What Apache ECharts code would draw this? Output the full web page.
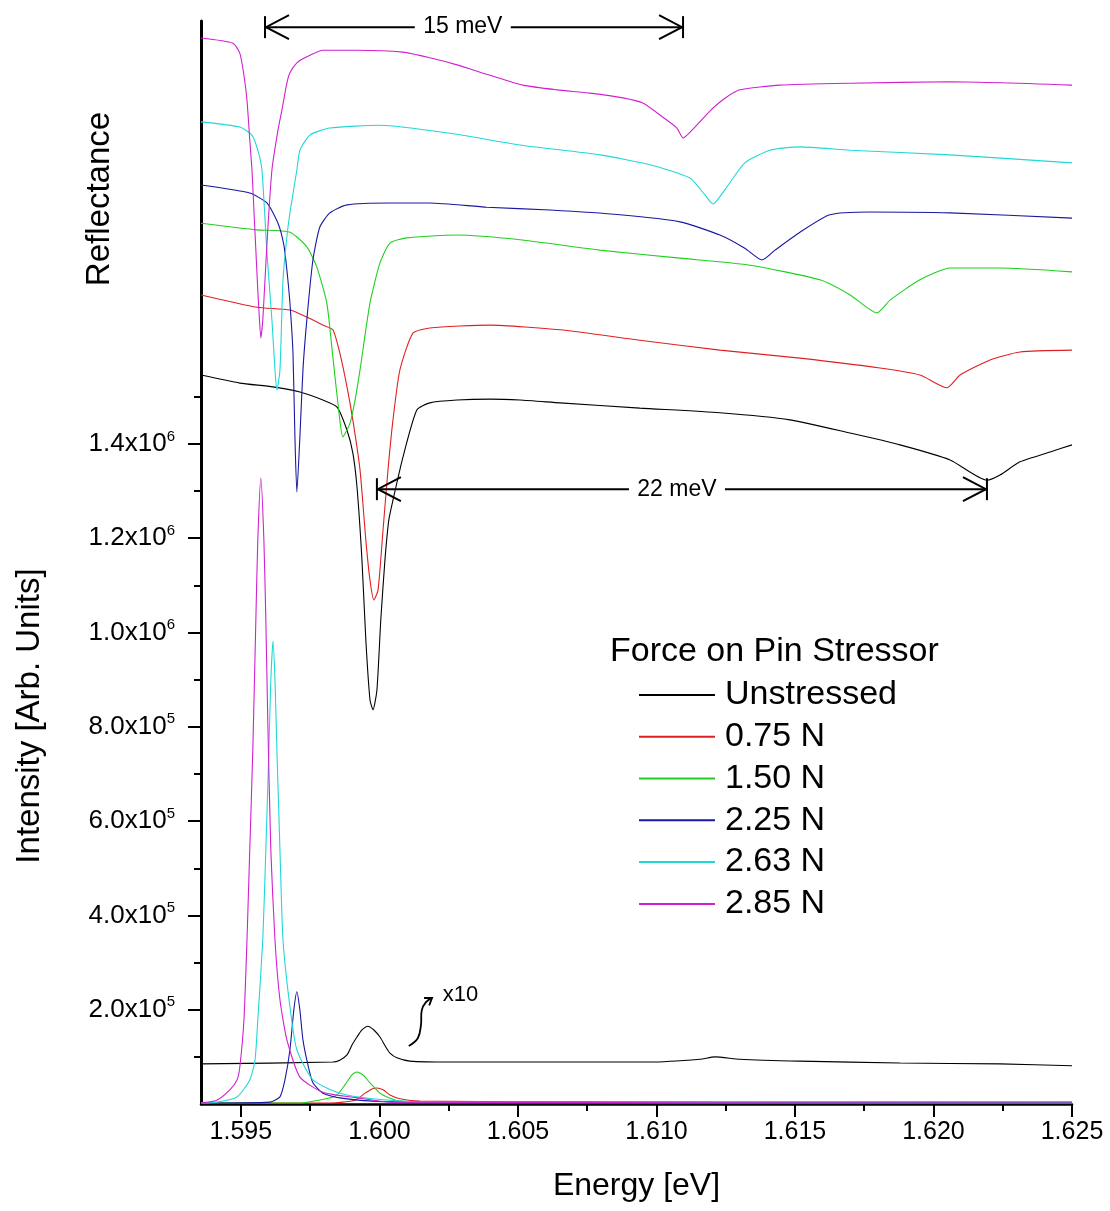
<!DOCTYPE html>
<html><head><meta charset="utf-8">
<script src="https://cdn.jsdelivr.net/npm/echarts@6/dist/echarts.min.js"></script>
<style>html,body{margin:0;padding:0;background:#fff}#c{width:1110px;height:1211px}</style>
</head><body><div id="c"></div>
<script>
// ---- Data (energy in eV, intensity in units of 1e5) ----
const forceNames = ['Unstressed', '0.75 N', '1.50 N', '2.25 N', '2.63 N', '2.85 N'];
const lineColors = ['#000000', '#e02020', '#20d020', '#1818a0', '#20d8d8', '#d020d0'];

const xMajorTicks = [1.595, 1.600, 1.605, 1.610, 1.615, 1.620, 1.625];
const xMinorTicks = [1.5975, 1.6025, 1.6075, 1.6125, 1.6175, 1.6225];
const yLabelTicks = [2, 4, 6, 8, 10, 12, 14];
const yMinorTicks = [1, 3, 5, 7, 9, 11, 13, 15];

// Reflectance traces
const reflUnstressed = [[1.59356,15.46],[1.59496,15.29],[1.59616,15.21],[1.59713,15.10],[1.59796,14.93],[1.59847,14.78],[1.59883,14.29],[1.59904,13.81],[1.59919,13.09],[1.59937,11.54],[1.59951,9.84],[1.59966,8.57],[1.59977,8.36],[1.59991,8.78],[1.60005,10.27],[1.60020,11.54],[1.60034,12.39],[1.60049,12.81],[1.60085,13.72],[1.60135,14.72],[1.60182,14.87],[1.60280,14.93],[1.60399,14.95],[1.60507,14.93],[1.60652,14.87],[1.60940,14.76],[1.61229,14.66],[1.61482,14.51],[1.61699,14.23],[1.61879,13.98],[1.62060,13.66],[1.62193,13.23],[1.62240,13.34],[1.62312,13.62],[1.62421,13.83],[1.62500,13.98]];
const refl075 = [[1.59356,17.16],[1.59558,16.90],[1.59677,16.84],[1.59738,16.69],[1.59796,16.52],[1.59832,16.42],[1.59857,15.93],[1.59883,15.21],[1.59904,14.51],[1.59930,13.45],[1.59951,11.96],[1.59966,11.11],[1.59980,10.69],[1.59995,10.90],[1.60013,12.17],[1.60031,13.45],[1.60049,14.51],[1.60074,15.57],[1.60121,16.35],[1.60182,16.46],[1.60399,16.52],[1.60652,16.42],[1.60940,16.20],[1.61229,15.99],[1.61518,15.82],[1.61807,15.61],[1.61951,15.46],[1.62049,15.19],[1.62096,15.46],[1.62204,15.78],[1.62312,15.95],[1.62500,15.99]];
const refl150 = [[1.59356,18.68],[1.59558,18.54],[1.59677,18.49],[1.59738,18.18],[1.59774,17.75],[1.59810,16.99],[1.59832,15.84],[1.59857,14.51],[1.59868,14.15],[1.59894,14.44],[1.59912,14.93],[1.59930,15.57],[1.59966,16.99],[1.60002,17.84],[1.60038,18.26],[1.60099,18.37],[1.60280,18.43],[1.60507,18.33],[1.60796,18.11],[1.61085,17.94],[1.61338,17.79],[1.61590,17.48],[1.61699,17.16],[1.61796,16.78],[1.61843,17.05],[1.61951,17.48],[1.62060,17.73],[1.62240,17.73],[1.62500,17.65]];
const refl225 = [[1.59356,19.49],[1.59532,19.32],[1.59594,19.11],[1.59634,18.68],[1.59655,18.22],[1.59666,17.69],[1.59677,16.99],[1.59688,15.93],[1.59695,14.15],[1.59702,12.98],[1.59713,14.15],[1.59724,15.57],[1.59738,16.63],[1.59760,17.90],[1.59785,18.60],[1.59821,18.90],[1.59883,19.07],[1.60038,19.11],[1.60182,19.11],[1.60388,19.02],[1.60616,18.96],[1.60868,18.86],[1.61085,18.71],[1.61229,18.43],[1.61319,18.15],[1.61381,17.90],[1.61428,18.11],[1.61518,18.49],[1.61626,18.86],[1.61771,18.92],[1.62060,18.90],[1.62500,18.79]];
const refl263 = [[1.59356,20.83],[1.59496,20.72],[1.59540,20.55],[1.59561,20.23],[1.59576,19.81],[1.59594,18.05],[1.59612,16.63],[1.59623,15.57],[1.59630,15.14],[1.59641,15.57],[1.59652,17.48],[1.59666,18.39],[1.59677,18.90],[1.59702,19.81],[1.59713,20.23],[1.59749,20.55],[1.59821,20.70],[1.60002,20.76],[1.60255,20.59],[1.60507,20.34],[1.60796,20.13],[1.60977,19.92],[1.61121,19.64],[1.61175,19.28],[1.61204,19.09],[1.61247,19.39],[1.61319,19.96],[1.61410,20.23],[1.61518,20.30],[1.61699,20.23],[1.62060,20.13],[1.62500,19.96]];
const refl285 = [[1.59356,22.61],[1.59471,22.50],[1.59496,22.29],[1.59511,21.82],[1.59522,21.29],[1.59532,20.45],[1.59540,19.81],[1.59547,18.96],[1.59554,18.11],[1.59561,17.26],[1.59565,16.84],[1.59572,16.25],[1.59579,16.63],[1.59587,17.48],[1.59597,18.54],[1.59612,19.81],[1.59634,20.66],[1.59648,21.08],[1.59666,21.65],[1.59677,21.87],[1.59702,22.08],[1.59738,22.21],[1.59796,22.35],[1.59919,22.35],[1.60085,22.31],[1.60182,22.19],[1.60280,22.04],[1.60399,21.82],[1.60518,21.61],[1.60641,21.51],[1.60760,21.44],[1.60879,21.34],[1.60951,21.23],[1.61023,20.93],[1.61074,20.70],[1.61096,20.49],[1.61139,20.72],[1.61193,21.06],[1.61247,21.33],[1.61301,21.51],[1.61446,21.61],[1.61699,21.65],[1.62060,21.68],[1.62500,21.61]];

// Photoluminescence traces
const plUnstressedX10 = [[1.59356,0.85],[1.59832,0.89],[1.59857,0.93],[1.59883,1.04],[1.59901,1.25],[1.59919,1.42],[1.59937,1.57],[1.59958,1.65],[1.59980,1.57],[1.60002,1.42],[1.60023,1.21],[1.60038,1.08],[1.60063,0.98],[1.60110,0.91],[1.60255,0.89],[1.60977,0.89],[1.61157,0.95],[1.61211,1.00],[1.61301,0.95],[1.61518,0.91],[1.61879,0.87],[1.62240,0.85],[1.62500,0.81]];
const pl075 = [[1.59356,0.02],[1.59821,0.02],[1.59912,0.08],[1.59948,0.23],[1.59973,0.32],[1.59991,0.34],[1.60013,0.30],[1.60038,0.19],[1.60074,0.11],[1.60146,0.06],[1.60796,0.04],[1.62500,0.04]];
const pl150 = [[1.59356,0.02],[1.59713,0.02],[1.59821,0.13],[1.59847,0.19],[1.59875,0.40],[1.59901,0.62],[1.59919,0.68],[1.59940,0.62],[1.59966,0.45],[1.60002,0.23],[1.60027,0.15],[1.60074,0.06],[1.60255,0.04],[1.62500,0.04]];
const pl225 = [[1.59356,0.02],[1.59605,0.04],[1.59641,0.15],[1.59659,0.51],[1.59677,1.15],[1.59691,1.99],[1.59702,2.38],[1.59713,1.99],[1.59724,1.36],[1.59742,0.83],[1.59760,0.45],[1.59796,0.23],[1.59857,0.13],[1.59977,0.06],[1.60146,0.04],[1.62500,0.02]];
const pl263 = [[1.59356,0.02],[1.59413,0.04],[1.59486,0.15],[1.59532,0.51],[1.59551,0.93],[1.59561,1.78],[1.59579,3.48],[1.59590,5.39],[1.59601,7.51],[1.59608,8.99],[1.59616,9.82],[1.59623,8.99],[1.59630,7.51],[1.59641,5.39],[1.59652,3.48],[1.59677,2.06],[1.59702,1.15],[1.59760,0.51],[1.59857,0.23],[1.59977,0.11],[1.60157,0.04],[1.62500,0.02]];
const pl285 = [[1.59356,0.02],[1.59413,0.08],[1.59460,0.30],[1.59486,0.51],[1.59496,0.78],[1.59511,1.78],[1.59522,3.48],[1.59532,5.39],[1.59543,7.51],[1.59554,10.27],[1.59561,11.96],[1.59572,13.28],[1.59583,11.96],[1.59590,10.27],[1.59597,8.14],[1.59608,5.39],[1.59623,3.48],[1.59641,2.21],[1.59666,1.36],[1.59713,0.57],[1.59796,0.25],[1.59919,0.13],[1.60038,0.04],[1.62500,0.02]];

const reflSets = [reflUnstressed, refl075, refl150, refl225, refl263, refl285];
const plSets = [plUnstressedX10, pl075, pl150, pl225, pl263, pl285];

// Splitting annotations: left energy, right energy, height, label position
const spanLeft = [1.59587, 1.59991];
const spanRight = [1.61096, 1.62193];
const spanY = [22.84, 13.04];
const spanLabelX = [1.60301, 1.61074];
const spanLabels = ['15 meV', '22 meV'];

// "x10" marker arrow path
const x10PathE = [1.60106, 1.60139, 1.60150, 1.60153, 1.60168, 1.60190];
const x10PathV = [1.23, 1.40, 1.68, 1.99, 2.16, 2.25];
const x10TextPos = [1.60229, 2.31];

// ---- Chart ----
const FONT = '"Liberation Sans", Arial, Helvetica, sans-serif';
const chart = echarts.init(document.getElementById('c'));
const series = [];
forceNames.forEach((n, i) => {
  [reflSets[i], plSets[i]].forEach(d => {
    series.push({
      name: n, type: 'line', data: d, xAxisIndex: 0, yAxisIndex: 0,
      showSymbol: false, symbol: 'none', smooth: 0.2, silent: true,
      lineStyle: { width: 1.1, color: lineColors[i] },
      itemStyle: { color: lineColors[i] }
    });
  });
});

const blackStroke = { stroke: '#000', lineWidth: 2, fill: null };
series.push({
  type: 'custom', name: 'spans', xAxisIndex: 0, yAxisIndex: 0, clip: false, silent: true, z: 5,
  data: spanLeft.map((v, i) => [spanLeft[i], spanRight[i], spanY[i], spanLabelX[i]]),
  encode: { x: [0, 1, 3], y: 2 },
  renderItem(params, api) {
    const l = api.coord([api.value(0), api.value(2)]);
    const r = api.coord([api.value(1), api.value(2)]);
    const m = api.coord([api.value(3), api.value(2)]);
    const y = l[1], gap = 48, ah = 24, aw = 12, bh = 11;
    return { type: 'group', children: [
      { type: 'line', shape: { x1: l[0], y1: y, x2: m[0] - gap, y2: y }, style: blackStroke },
      { type: 'line', shape: { x1: m[0] + gap, y1: y, x2: r[0], y2: y }, style: blackStroke },
      { type: 'polyline', shape: { points: [[l[0] + ah, y - aw], [l[0] + 1, y], [l[0] + ah, y + aw]] }, style: blackStroke },
      { type: 'polyline', shape: { points: [[r[0] - ah, y - aw], [r[0] - 1, y], [r[0] - ah, y + aw]] }, style: blackStroke },
      { type: 'line', shape: { x1: l[0], y1: y - bh, x2: l[0], y2: y + bh }, style: blackStroke },
      { type: 'line', shape: { x1: r[0], y1: y - bh, x2: r[0], y2: y + bh }, style: blackStroke },
      { type: 'text', style: { text: spanLabels[params.dataIndex], x: m[0], y: y, align: 'center', verticalAlign: 'middle', font: '23px ' + FONT, fill: '#000' } }
    ] };
  }
});
series.push({
  type: 'custom', name: 'x10', xAxisIndex: 0, yAxisIndex: 0, clip: false, silent: true, z: 5,
  data: [x10TextPos],
  renderItem(params, api) {
    const pts = x10PathE.map((e, i) => api.coord([e, x10PathV[i]]));
    const n = pts.length, tip = pts[n - 1], prev = pts[n - 2];
    const ang = Math.atan2(tip[1] - prev[1], tip[0] - prev[0]);
    const L = 8, a = 0.6;
    const h1 = [tip[0] - L * Math.cos(ang - a), tip[1] - L * Math.sin(ang - a)];
    const h2 = [tip[0] - L * Math.cos(ang + a), tip[1] - L * Math.sin(ang + a)];
    const t = api.coord([api.value(0), api.value(1)]);
    return { type: 'group', children: [
      { type: 'polyline', shape: { points: pts, smooth: 0.4 }, style: { stroke: '#000', lineWidth: 1.8, fill: null } },
      { type: 'polyline', shape: { points: [h1, tip, h2] }, style: { stroke: '#000', lineWidth: 1.8, fill: null } },
      { type: 'text', style: { text: 'x10', x: t[0], y: t[1], align: 'left', verticalAlign: 'middle', font: '22px ' + FONT, fill: '#000' } }
    ] };
  }
});

chart.setOption({
  animation: false,
  backgroundColor: '#fff',
  grid: { left: 201, right: 38, top: 21, bottom: 107, containLabel: false },
  title: { text: 'Force on Pin Stressor', left: 610, top: 632, padding: 0,
    textStyle: { fontSize: 34, fontWeight: 'normal', fontFamily: FONT, color: '#000', lineHeight: 40 } },
  legend: {
    data: forceNames, orient: 'vertical', left: 639, top: 674, padding: 0,
    itemWidth: 76, itemHeight: 2, icon: 'rect', itemGap: 0, selectedMode: false,
    textStyle: { fontSize: 34, fontFamily: FONT, color: '#000', lineHeight: 41.8, padding: [0, 0, 0, 5] }
  },
  xAxis: [
    { type: 'value', min: 1.59356, max: 1.625, position: 'bottom',
      axisLine: { show: true, lineStyle: { color: '#000', width: 2.5 } },
      axisTick: { show: true, customValues: xMajorTicks, length: 13, lineStyle: { color: '#000', width: 2 } },
      axisLabel: { customValues: xMajorTicks, formatter: v => v.toFixed(3), fontSize: 25, fontFamily: FONT, color: '#000', margin: 16 },
      splitLine: { show: false },
      name: 'Energy [eV]', nameLocation: 'middle', nameGap: 66,
      nameTextStyle: { fontSize: 32, fontFamily: FONT, color: '#000' } },
    { type: 'value', min: 1.59356, max: 1.625, position: 'bottom',
      axisLine: { show: false },
      axisTick: { show: true, customValues: xMinorTicks, length: 7, lineStyle: { color: '#000', width: 2 } },
      axisLabel: { show: false }, splitLine: { show: false } }
  ],
  yAxis: [
    { type: 'value', min: 0, max: 22.97, position: 'left',
      axisLine: { show: true, lineStyle: { color: '#000', width: 3 } },
      axisTick: { show: true, customValues: yMinorTicks, length: 7, lineStyle: { color: '#000', width: 2 } },
      axisLabel: { show: false }, splitLine: { show: false } },
    { type: 'value', min: 0, max: 22.97, position: 'left',
      axisLine: { show: false },
      axisTick: { show: true, customValues: yLabelTicks, length: 13, lineStyle: { color: '#000', width: 2 } },
      axisLabel: { customValues: yLabelTicks, margin: 26,
        formatter: v => { const big = v >= 10; const m = big ? v / 10 : v; return '{m|' + m.toFixed(1) + 'x10}{e|' + (big ? 6 : 5) + '}'; },
        rich: { m: { fontSize: 26, fontFamily: FONT, color: '#000', lineHeight: 30 },
                e: { fontSize: 15, fontFamily: FONT, color: '#000', lineHeight: 15, verticalAlign: 'top' } } },
      splitLine: { show: false } }
  ],
  graphic: [
    { type: 'text', x: 100, y: 199, rotation: Math.PI / 2, style: { text: 'Reflectance', font: '33px ' + FONT, fill: '#000', align: 'center', verticalAlign: 'middle' } },
    { type: 'text', x: 30, y: 716, rotation: Math.PI / 2, style: { text: 'Intensity [Arb. Units]', font: '33px ' + FONT, fill: '#000', align: 'center', verticalAlign: 'middle' } }
  ],
  series: series
});
</script></body></html>
